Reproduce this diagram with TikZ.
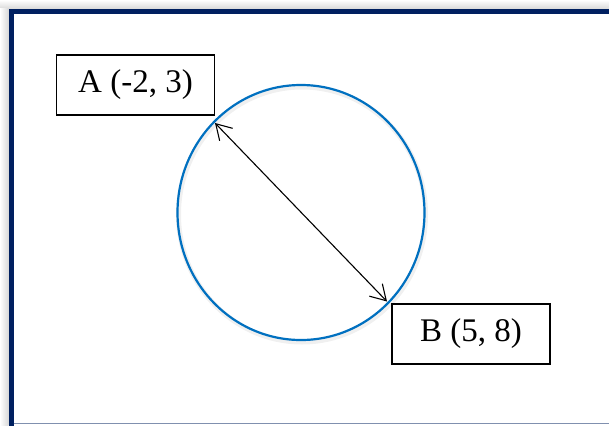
\documentclass[tikz,border=0pt]{standalone}
\usepackage{fontspec}
\setmainfont{Liberation Serif}
\usetikzlibrary{arrows.meta}
\definecolor{navyframe}{HTML}{002060}
\definecolor{circblue}{HTML}{0070C0}
\tikzset{
  ptbox/.style={draw, line width=1.5pt, fill=white, minimum width=158pt, minimum height=60pt, inner sep=0pt, font=\fontsize{33}{40}\selectfont},
  diam/.style={{Straight Barb[length=15pt, width=18pt]}-{Straight Barb[length=15pt, width=18pt]}, line width=1.1pt}
}
\begin{document}
\begin{tikzpicture}[x=1pt, y=-1pt]
\useasboundingbox (0,0) rectangle (609,425);
% moldura
\shade[top color=white, bottom color=gray!30] (0,0) rectangle (609,9);
\shade[left color=white, right color=gray!30] (0,9) rectangle (8.5,425);
\draw[navyframe, line width=5pt] (620,11.5) -- (11,11.5) -- (11,432);
\draw[navyframe!50, line width=1pt] (13.5,423.5) -- (609,423.5);
% circunferencia
\coordinate (c) at (301,212.5);
\draw[gray!12, line width=5pt] ([shift={(1,2)}]c) ellipse [x radius=123.5, y radius=127.5];
\draw[circblue, line width=2.2pt] (c) ellipse [x radius=123.5, y radius=127.5];
\coordinate (endA) at (215,123);
\coordinate (endB) at (387,301.5);
% diametro
\draw[diam] (endA) -- (endB);
% rotulos
\node[ptbox] (ptA) at (135.5,85) {A (-2, 3)};
\node[ptbox] (ptB) at (471,334) {B (5, 8)};
\end{tikzpicture}
\end{document}
